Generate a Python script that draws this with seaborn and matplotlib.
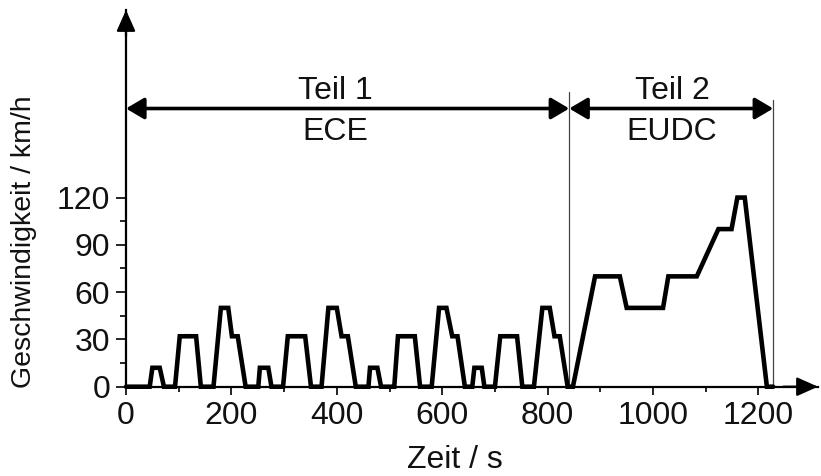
import matplotlib
matplotlib.use("Agg")
import matplotlib.pyplot as plt
from matplotlib.ticker import FixedLocator
import pandas as pd
import seaborn as sns

# Speed profile of the NEDC: four urban ECE cycles (Teil 1) followed by the EUDC (Teil 2)
ece_time = [0, 45, 50, 64, 72, 93, 102, 133, 142, 166, 180, 194, 201, 212, 227,
            251, 254, 270, 276, 298, 307, 340, 351, 371, 384, 400, 409, 421, 436,
            460, 463, 477, 484, 509, 516, 548, 558, 580, 594, 608, 619, 629, 643,
            657, 661, 675, 680, 700, 710, 742, 752, 774, 790, 804, 813, 823, 838]
ece_speed = [0, 0, 12, 12, 0, 0, 32, 32, 0, 0, 50, 50, 32, 32, 0,
             0, 12, 12, 0, 0, 32, 32, 0, 0, 50, 50, 32, 32, 0,
             0, 12, 12, 0, 0, 32, 32, 0, 0, 50, 50, 32, 32, 0,
             0, 12, 12, 0, 0, 32, 32, 0, 0, 50, 50, 32, 32, 0]
eudc_time = [848, 890, 937, 950, 1019, 1029, 1083, 1124, 1149, 1160, 1174, 1216, 1228]
eudc_speed = [0, 70, 70, 50, 50, 70, 70, 100, 100, 120, 120, 0, 0]

# Section boundaries and labels
part_bounds = [0, 841, 1228]
part_names = ["Teil 1", "Teil 2"]
part_cycles = ["ECE", "EUDC"]

y_ticks = [0, 30, 60, 90, 120]
x_ticks = [0, 200, 400, 600, 800, 1000, 1200]

sns.set_theme(style="ticks")
plt.rcParams["font.family"] = ["Liberation Sans", "DejaVu Sans"]

df = pd.DataFrame({"Zeit": ece_time + eudc_time, "Geschwindigkeit": ece_speed + eudc_speed})

fig = plt.figure(figsize=(8.21, 4.76), dpi=100)
ax = fig.add_axes([126 / 821, (476 - 386.7) / 476, (818 - 126) / 821, (386.7 - 10) / 476])

sns.lineplot(data=df, x="Zeit", y="Geschwindigkeit", ax=ax, sort=False, estimator=None,
             color="black", lw=3.3, clip_on=False, solid_joinstyle="miter", zorder=5)

ax.set_xlim(0, 1313)
ax.set_ylim(0, 239)

ax.spines[["top", "right"]].set_visible(False)
for s in ("left", "bottom"):
    ax.spines[s].set_linewidth(1.6)
    ax.spines[s].set_color("black")

ax.xaxis.set_major_locator(FixedLocator(x_ticks))
ax.xaxis.set_minor_locator(FixedLocator([100, 300, 500, 700, 900, 1100]))
ax.yaxis.set_major_locator(FixedLocator(y_ticks))
ax.yaxis.set_minor_locator(FixedLocator([15, 45, 75, 105]))
ax.tick_params(axis="x", which="major", length=6, width=1.2, pad=4, labelsize=23, color="black", labelcolor="#111111")
ax.tick_params(axis="x", which="minor", length=3.5, width=1.2, color="black")
ax.tick_params(axis="y", which="major", length=7, width=1.2, pad=4.5, labelsize=23, color="black", labelcolor="#111111")
ax.tick_params(axis="y", which="minor", length=4.5, width=1.2, color="black")

ax.set_xlabel("Zeit / s", fontsize=23, color="#111111")
ax.set_ylabel("Geschwindigkeit / km/h", fontsize=20.5, color="#111111")
ax.xaxis.set_label_coords(0.475, -0.155)
ax.yaxis.set_label_coords(-0.128, 0.384)

# Axis arrowheads
head = dict(arrowstyle="-|>,head_length=1.3,head_width=0.58", mutation_scale=10,
            lw=1.6, color="black", shrinkA=0, shrinkB=0)
ax.annotate("", xy=(0, 1), xytext=(0, 0.93), xycoords="axes fraction", arrowprops=head, annotation_clip=False)
ax.annotate("", xy=(1, 0), xytext=(0.95, 0), xycoords="axes fraction", arrowprops=head, annotation_clip=False)

# Section separators
ax.plot([part_bounds[1]] * 2, [0, 187], color="#444444", lw=0.9, zorder=3)
ax.plot([part_bounds[2]] * 2, [0, 181.6], color="#444444", lw=0.9, zorder=3)

# Dimension arrows with section labels
dim = dict(arrowstyle="<|-|>,head_length=1.1,head_width=0.65", mutation_scale=10,
           lw=2.6, color="black", shrinkA=0, shrinkB=0)
for i in range(2):
    a, b = part_bounds[i], part_bounds[i + 1]
    ax.annotate("", xy=(a, 176.5), xytext=(b, 176.5), arrowprops=dim, annotation_clip=False)
    xc = [398, 1036][i]
    ax.text(xc, 182.4, part_names[i], ha="center", va="baseline", fontsize=23, color="#111111")
    ax.text(xc, 156.5, part_cycles[i], ha="center", va="baseline", fontsize=23, color="#111111")

fig.savefig("out.png", dpi=100)
